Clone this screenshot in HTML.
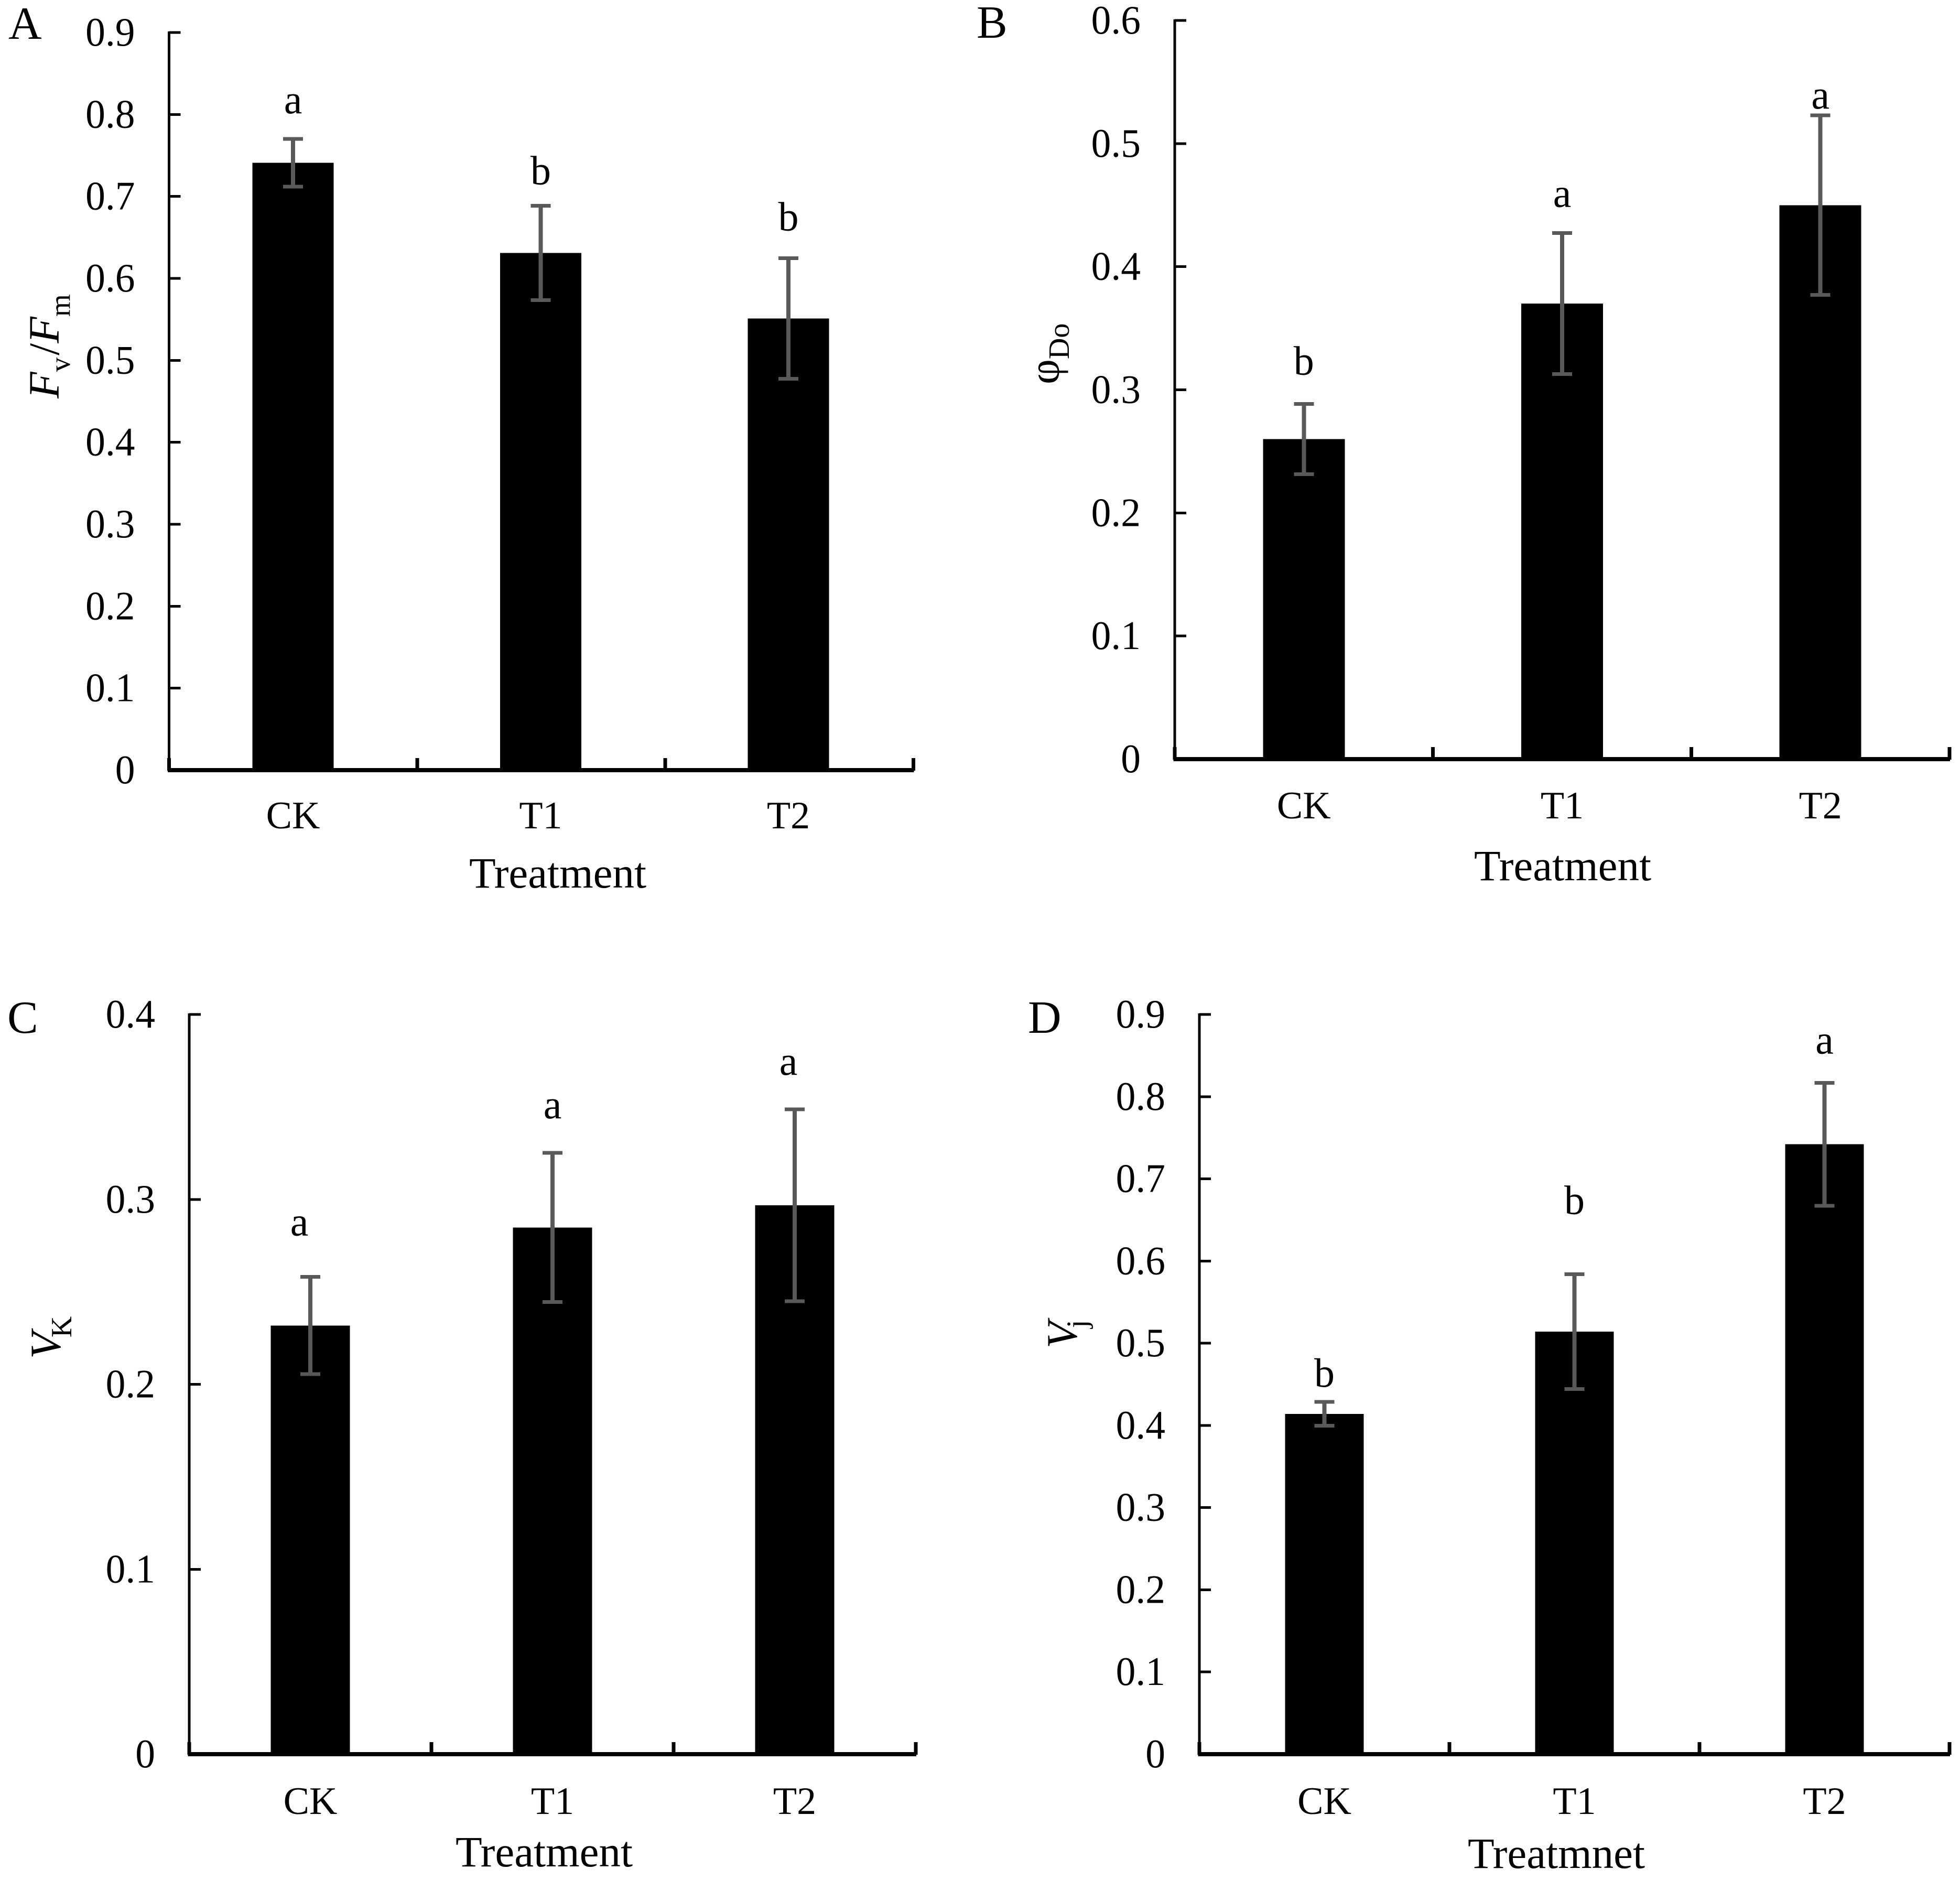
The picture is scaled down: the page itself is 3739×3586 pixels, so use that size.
<!DOCTYPE html>
<html lang="en">
<head>
<meta charset="utf-8">
<title>Chlorophyll fluorescence parameters by treatment</title>
<style>
html,body{margin:0;padding:0;background:#fff;}
svg{display:block;}
text{font-family:"Liberation Serif","Times New Roman",serif;fill:#000;}
</style>
</head>
<body>
<svg id="figure" xmlns="http://www.w3.org/2000/svg" width="3739" height="3586" viewBox="0 0 3739 3586">
  <rect x="0" y="0" width="3739" height="3586" fill="#fff"/>
  <text transform="translate(112 760) rotate(-90)" font-size="83"><tspan font-style="italic">F</tspan><tspan font-size="55" dy="21">v</tspan><tspan dy="-21" dx="4">/</tspan><tspan font-style="italic">F</tspan><tspan font-size="55" dy="21">m</tspan></text>
  <text transform="translate(2020 733) rotate(-90)" font-size="83">φ<tspan font-size="56" dy="19">Do</tspan></text>
  <text transform="translate(115 2592) rotate(-90)" font-size="83"><tspan font-style="italic">V</tspan><tspan font-size="56" dy="21" dx="-10">K</tspan></text>
  <text transform="translate(2054 2572) rotate(-90)" font-size="83"><tspan font-style="italic">V</tspan><tspan font-size="56" dy="19" dx="-12">j</tspan></text>
</svg>
<script>
const categories = ['CK', 'T1', 'T2'];

const yTicksA = ['0', '0.1', '0.2', '0.3', '0.4', '0.5', '0.6', '0.7', '0.8', '0.9'];
const valuesA = [0.741, 0.631, 0.551];
const errorsA = [0.029, 0.0575, 0.0735];
const lettersA = ['a', 'b', 'b'];

const yTicksB = ['0', '0.1', '0.2', '0.3', '0.4', '0.5', '0.6'];
const valuesB = [0.26, 0.37, 0.45];
const errorsB = [0.0285, 0.0573, 0.073];
const lettersB = ['b', 'a', 'a'];

const yTicksC = ['0', '0.1', '0.2', '0.3', '0.4'];
const valuesC = [0.2318, 0.2848, 0.2968];
const errorsC = [0.0263, 0.0403, 0.0519];
const lettersC = ['a', 'a', 'a'];

const yTicksD = ['0', '0.1', '0.2', '0.3', '0.4', '0.5', '0.6', '0.7', '0.8', '0.9'];
const valuesD = [0.414, 0.514, 0.742];
const errorsD = [0.0145, 0.0698, 0.0748];
const lettersD = ['b', 'b', 'a'];

const xTitleA = 'Treatment';
const xTitleB = 'Treatment';
const xTitleC = 'Treatment';
const xTitleD = 'Treatmnet';

const panels = [
  { id: 'a', tag: 'A', ticks: yTicksA, values: valuesA, errors: errorsA, letters: lettersA, xTitle: xTitleA,
    frame: { x0: 322.5, x1: 1742.5, yTop: 62, y0: 1469, barW: 155, barFirst: 559, barStep: 472.5 },
    tagPos: [16, 74], titlePos: [1064, 1693], catDrop: 111, letterGap: [49, 41, 53], letterShift: [0, 0, 0] },
  { id: 'b', tag: 'B', ticks: yTicksB, values: valuesB, errors: errorsB, letters: lettersB, xTitle: xTitleB,
    frame: { x0: 2241, x1: 3719, yTop: 39, y0: 1448, barW: 156, barFirst: 2487.3, barStep: 492.7 },
    tagPos: [1863, 72], titlePos: [2981, 1679], catDrop: 113, letterGap: [56, 50, 13], letterShift: [0, 0, 0] },
  { id: 'c', tag: 'C', ticks: yTicksC, values: valuesC, errors: errorsC, letters: lettersC, xTitle: xTitleC,
    frame: { x0: 361, x1: 1747, yTop: 1935, y0: 3346, barW: 151, barFirst: 592, barStep: 462 },
    tagPos: [14, 1970], titlePos: [1038, 3560], catDrop: 114, letterGap: [79, 66, 66], letterShift: [-21, 0, -12] },
  { id: 'd', tag: 'D', ticks: yTicksD, values: valuesD, errors: errorsD, letters: lettersD, xTitle: xTitleD,
    frame: { x0: 2288, x1: 3719, yTop: 1935, y0: 3346, barW: 150, barFirst: 2526.5, barStep: 477 },
    tagPos: [1961, 1970], titlePos: [2969, 3563], catDrop: 114, letterGap: [29, 115, 56], letterShift: [0, 0, 0] }
];

const NS = 'http://www.w3.org/2000/svg';
const svg = document.getElementById('figure');

function make(kind, attrs, parent) {
  const node = document.createElementNS(NS, kind);
  Object.keys(attrs).forEach(function (k) { node.setAttribute(k, attrs[k]); });
  parent.appendChild(node);
  return node;
}

function label(content, x, y, size, anchor, parent, squeeze) {
  const attrs = { 'font-size': size, 'text-anchor': anchor };
  if (squeeze) {
    attrs.transform = 'translate(' + x + ' ' + y + ') scale(' + squeeze + ' 1)';
  } else {
    attrs.x = x;
    attrs.y = y;
  }
  const node = make('text', attrs, parent);
  node.textContent = content;
  return node;
}

panels.forEach(function (p) {
  const f = p.frame;
  const maxVal = parseFloat(p.ticks[p.ticks.length - 1]);
  const yScale = function (v) { return f.y0 - (v / maxVal) * (f.y0 - f.yTop); };
  const band = (f.x1 - f.x0) / categories.length;
  const xCenter = function (i) { return f.barFirst + f.barStep * i; };

  const g = make('g', {}, svg);
  
  

  const tag = label(p.tag, p.tagPos[0], p.tagPos[1], 88, 'start', g);
  
  

  p.values.forEach(function (v, i) {
    const barRect = make('rect', { x: xCenter(i) - f.barW / 2, y: yScale(v), width: f.barW, height: f.y0 - yScale(v), fill: '#000', 'shape-rendering': 'crispEdges' }, g);
    
    
  });

  const yAxis = make('line', { x1: f.x0, x2: f.x0, y1: f.yTop - 2, y2: f.y0 + 4, stroke: '#000', 'stroke-width': 5, 'shape-rendering': 'crispEdges' }, g);
  
  

  const xAxis = make('line', { x1: f.x0 - 2, x2: f.x1 + 1, y1: f.y0, y2: f.y0, stroke: '#000', 'stroke-width': 8, 'shape-rendering': 'crispEdges' }, g);
  
  

  p.ticks.forEach(function (t) {
    const ty = yScale(parseFloat(t));
    const tickMark = make('line', { x1: f.x0, x2: f.x0 + 22, y1: ty, y2: ty, stroke: '#000', 'stroke-width': 5, 'shape-rendering': 'crispEdges' }, g);
    
    
    const tickText = label(t, f.x0 - 65, ty + 25, 77, 'end', g, 0.98);
    
    
  });

  for (let k = 0; k <= categories.length; k++) {
    const tx = f.x0 + band * k;
    const xTick = make('line', { x1: tx, x2: tx, y1: f.y0 - 23, y2: f.y0 + 1, stroke: '#000', 'stroke-width': 7, 'shape-rendering': 'crispEdges' }, g);
    
    
  }

  categories.forEach(function (c, i) {
    const catText = label(c, xCenter(i), f.y0 + p.catDrop, 74, 'middle', g);
    
    
  });

  p.errors.forEach(function (e, i) {
    const cx = xCenter(i);
    const hi = yScale(p.values[i] + e);
    const lo = yScale(p.values[i] - e);
    const stem = make('line', { x1: cx, x2: cx, y1: hi, y2: lo, stroke: '#595959', 'stroke-width': 8, 'shape-rendering': 'crispEdges' }, g);
    
    
    const capHi = make('line', { x1: cx - 19, x2: cx + 19, y1: hi, y2: hi, stroke: '#595959', 'stroke-width': 7, 'shape-rendering': 'crispEdges' }, g);
    
    
    const capLo = make('line', { x1: cx - 19, x2: cx + 19, y1: lo, y2: lo, stroke: '#595959', 'stroke-width': 7, 'shape-rendering': 'crispEdges' }, g);
    
    
    const sig = label(p.letters[i], cx + p.letterShift[i], hi - p.letterGap[i], 78, 'middle', g);
    
    
  });

  const xTitleText = label(p.xTitle, p.titlePos[0], p.titlePos[1], 83, 'middle', g);
  
  
});
</script>
</body>
</html>
